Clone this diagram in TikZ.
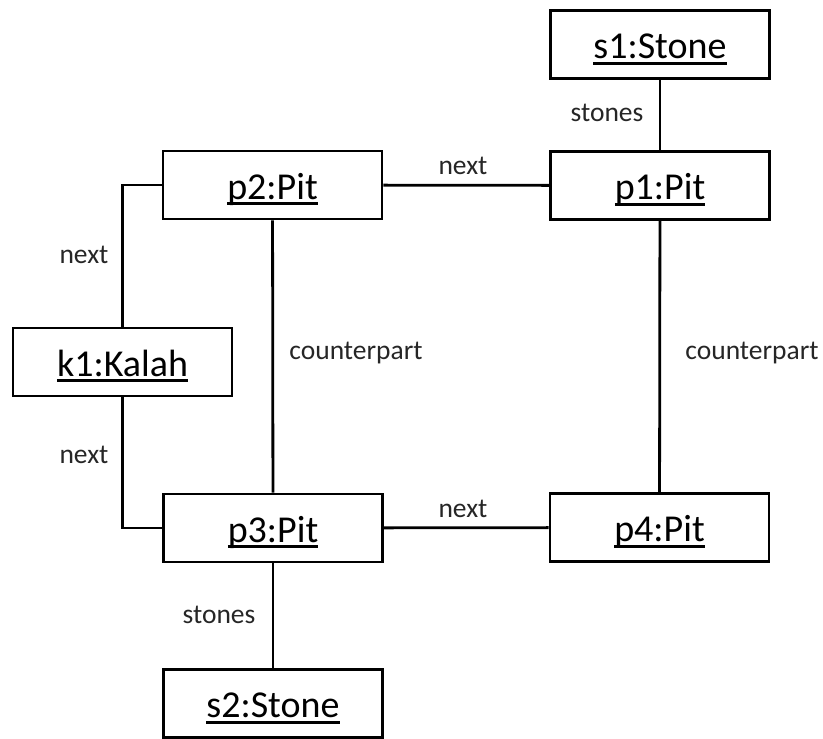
\documentclass[tikz,border=0pt]{standalone}
\usepackage{fontspec}
\setmainfont{Carlito}
\usetikzlibrary{positioning}
\newcommand\objname[1]{\setbox0\hbox{#1}\rlap{\rule[-6pt]{\wd0}{2.6pt}}\box0}
\tikzset{
  obj/.style={draw=black, line width=2.8pt, fill=white, minimum width=219pt, minimum height=68pt,
    inner sep=0pt, text height=28pt, text depth=0pt, font=\fontsize{38}{42}\selectfont},
  conn/.style={draw=black, line width=2.8pt},
  lbl/.style={anchor=base, inner sep=0pt, text=black!85, font=\fontsize{27.5}{32}\selectfont}
}
\begin{document}
\begin{tikzpicture}[x=1pt,y=-1pt]
\useasboundingbox (0,0) rectangle (823,739);
\node[obj] (s1) at (660,44.5) {\objname{s1:Stone}};
\node[obj] (p1) at (660,185.5) {\objname{p1:Pit}};
\node[obj] (p2) at (272.5,185) {\objname{p2:Pit}};
\node[obj] (k1) at (122.5,362) {\objname{k1:Kalah}};
\node[obj] (p3) at (273,528) {\objname{p3:Pit}};
\node[obj] (p4) at (659.5,527.5) {\objname{p4:Pit}};
\node[obj] (s2) at (273,703.5) {\objname{s2:Stone}};

\draw[conn] (s1) -- (p1);
\draw[conn] (p2) -- (p1);
\draw[conn] (p2) -- (p3);
\draw[conn] (p1) -- (p4);
\draw[conn] (p3) -- (p4);
\draw[conn] (p3) -- (s2);
\draw[conn] (p2.west) -| (k1.north);
\draw[conn] (k1.south) |- (p3.west);

\node[lbl] (l1) at (607,121) {stones};
\node[lbl] (l2) at (463,174) {next};
\node[lbl] (l3) at (84,263) {next};
\node[lbl] (l4) at (356,359) {counterpart};
\node[lbl] (l5) at (752,359) {counterpart};
\node[lbl] (l6) at (84,463) {next};
\node[lbl] (l7) at (463,517) {next};
\node[lbl] (l8) at (219,623) {stones};
\end{tikzpicture}
\end{document}
